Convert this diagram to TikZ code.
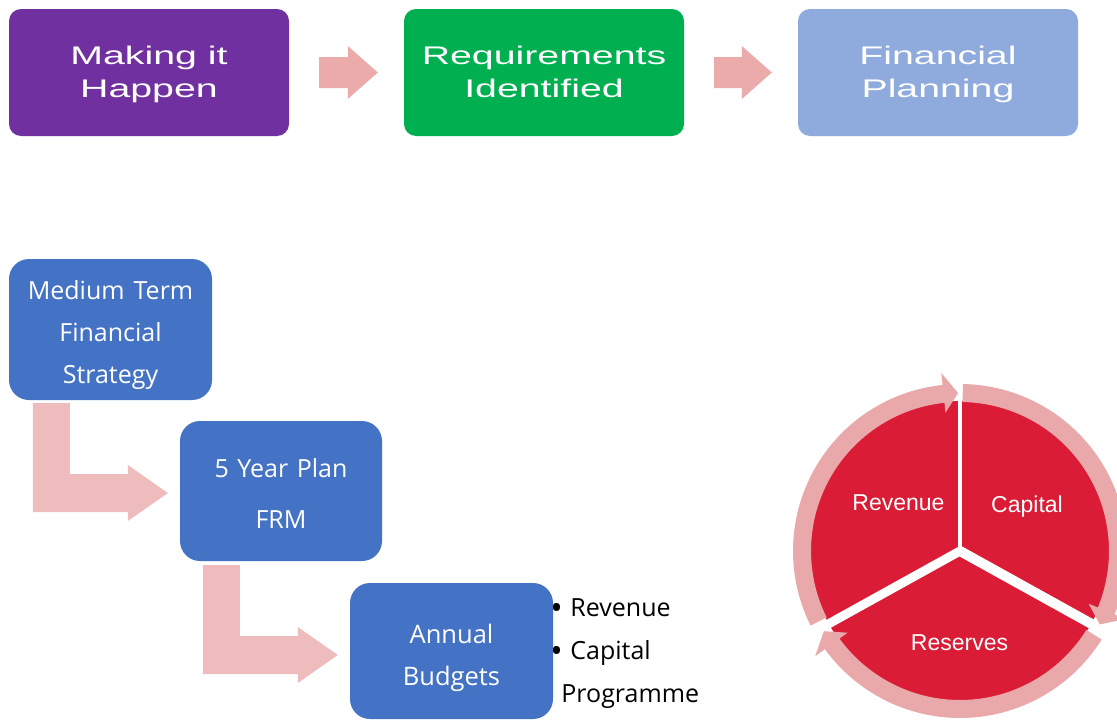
\documentclass[tikz,border=0pt]{standalone}
\usepackage{graphicx}
\usepackage{fontspec}
\setmainfont{Liberation Sans}
\newfontfamily\osans{Open Sans}
\usetikzlibrary{calc}
\definecolor{cpurple}{HTML}{7030A0}
\definecolor{cgreen}{HTML}{00B050}
\definecolor{clblue}{HTML}{8FAADC}
\definecolor{cblue}{HTML}{4472C4}
\definecolor{arrowpink}{HTML}{EBABAB}
\definecolor{bentpink}{HTML}{EEBCBC}
\definecolor{ringpink}{HTML}{E9A9AB}
\definecolor{cred}{HTML}{DA1C36}
\newcommand\wideA[1]{\rule{0pt}{27pt}\scalebox{1.54}[1]{#1}}
\newcommand\wideB[1]{\rule[-10pt]{0pt}{10pt}\scalebox{1.54}[1]{#1}}
\newcommand\lst[2]{\rule[-#2pt]{0pt}{#1pt}}
\newcommand\bul{\makebox[20pt][l]{\raisebox{-2.5pt}{\fontsize{33}{33}\selectfont •}}}
\newcommand\ringarrow[3]{%
  \fill[ringpink] (#1:167) arc[start angle=#1, end angle=#2, radius=167]
    -- (#2:179) -- (#3:158) -- (#2:139) -- (#2:149)
    arc[start angle=#2, end angle=#1, radius=149] -- cycle;}
\newcommand\bentarrow[2]{%
  \fill[bentpink] (#1) -- ($(#1)+(37,0)$) -- ($(#1 |- #2)+(37,-19)$)
    -- ($(#2)+(-40,-19)$) -- ($(#2)+(-40,-28)$) -- (#2)
    -- ($(#2)+(-40,28)$) -- ($(#2)+(-40,19)$) -- ($(#1 |- #2)+(0,19)$) -- cycle;}
\newcommand\toparrow[2]{%
  \fill[arrowpink] ($(#1.east)+(30,-15.5)$) -- ($(#2.west)+(-56,-15.5)$)
    -- ($(#2.west)+(-56,-26.5)$) -- ($(#2.west)+(-26,0)$)
    -- ($(#2.west)+(-56,26.5)$) -- ($(#2.west)+(-56,15.5)$)
    -- ($(#1.east)+(30,15.5)$) -- cycle;}
\begin{document}
\begin{tikzpicture}[x=1pt,y=-1pt,
  topbox/.style={rounded corners=12pt, minimum width=280, minimum height=127,
    inner sep=0, text=white, align=center, font=\fontsize{25.5}{33}\selectfont},
  bluebox/.style={fill=cblue, rounded corners=20pt, inner sep=0, text=white,
    align=center},
  clabel/.style={text=white, inner sep=0, font=\fontsize{23}{28}\selectfont},
  bultext/.style={text=black, inner sep=0, align=left,
    font=\osans\fontsize{25}{43}\selectfont}]
\fill[white] (0,0) rectangle (1117,720);
\useasboundingbox (0,0) rectangle (1117,720);

% top row
\node[topbox, fill=cpurple] (b1) at (149,72.5) {\wideA{Making it}\\\wideB{Happen}};
\node[topbox, fill=cgreen] (b2) at (544,72.5) {\wideA{Requirements}\\\wideB{Identified}};
\node[topbox, fill=clblue] (b3) at (938,72.5) {\wideA{Financial}\\\wideB{Planning}};
\toparrow{b1}{b2}
\toparrow{b2}{b3}

% staircase
\node[bluebox, minimum width=203, minimum height=141,
  font=\osans\fontsize{25}{42}\selectfont] (mtfs) at (110.5,329.5)
  {\lst{32}{3}Medium\hspace{9pt}Term\\\lst{24}{3}Financial\\\lst{24}{3}Strategy};
\node[bluebox, minimum width=202, minimum height=140,
  font=\osans\fontsize{25}{51}\selectfont] (fyp) at (281,491)
  {\lst{30}{3}5\hspace{8.5pt}Year\hspace{8.5pt}Plan\\\lst{26}{3}FRM};
\node[bluebox, minimum width=203, minimum height=136,
  font=\osans\fontsize{25.5}{42}\selectfont] (ann) at (451.5,651)
  {\lst{36}{3}Annual\\\lst{28}{3}Budgets};

\coordinate (aS) at ($(mtfs.south west)+(24,3)$);
\coordinate (aT) at ($(fyp.west)+(-12,2)$);
\bentarrow{aS}{aT}
\coordinate (bS) at ($(fyp.south west)+(23,4)$);
\coordinate (bT) at ($(ann.west)+(-12,4)$);
\bentarrow{bS}{bT}

\node[bultext, anchor=north west] (bul) at ($(ann.north east)+(-3,16)$)
  {\bul Revenue\\\bul Capital\\\hspace*{11pt}Programme};

% cycle
\begin{scope}[shift={(960,551)}]
  \fill[cred] (0,0) circle[radius=150];
  \draw[white, line width=4] (0,0) -- (-90:151);
  \draw[white, line width=10] (0,0) -- (29:151);
  \draw[white, line width=9] (0,0) -- (151:151);
  \ringarrow{271}{382.3}{387.7}
  \ringarrow{32}{144}{149.5}
  \ringarrow{153.5}{264}{269.3}
  \node[clabel, anchor=base] (rev) at (-61.5,-41) {Revenue};
  \node[clabel, anchor=base] (cap) at (67,-39) {Capital};
  \node[clabel, anchor=base] (res) at (-0.5,99) {Reserves};
\end{scope}
\end{tikzpicture}
\end{document}
